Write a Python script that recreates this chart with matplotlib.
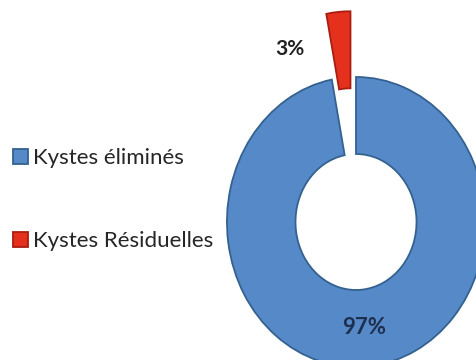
import matplotlib.pyplot as plt

# Donut: cysts eliminated vs residual
categories = ['Kystes éliminés', 'Kystes Résiduelles']
values = [97, 3]
pct_labels = ['97%', '3%']

plt.rcParams['font.family'] = ['Lato', 'DejaVu Sans']

fig = plt.figure(figsize=(4.76, 3.6), dpi=100)
ax = fig.add_axes([0, 0, 1, 1])

# x is drawn a bit narrower than y, so the ring comes out as a tall ellipse
sx = 0.89

colors = ['#5689C8', '#E4301C']
edges = ['#34618F', '#A81E10']

wedges, _ = ax.pie(values, colors=colors, center=(356 / sx, 138), radius=145,
                   startangle=90, counterclock=False, explode=[0, 66],
                   wedgeprops=dict(width=77, linewidth=1.3),
                   frame=True)
for w, ec in zip(wedges, edges):
    w.set_edgecolor(ec)

ax.set_aspect('auto')
ax.set_xlim(0, 476 / sx)
ax.set_ylim(0, 360)
ax.axis('off')

# percentage labels
ax.text(364 / sx, 32, pct_labels[0], ha='center', va='center',
        fontsize=16, fontweight='bold', color='#1F2F4F')
ax.text(290 / sx, 311, pct_labels[1], ha='center', va='center',
        fontsize=15, fontweight='bold', color='#222222')

ax.legend(wedges, categories, loc='center left', bbox_to_anchor=(0.0, 0.445),
          frameon=False, fontsize=16, handlelength=0.65, handleheight=0.65,
          handletextpad=0.25, labelspacing=2.85, borderaxespad=0.0,
          borderpad=0.6, labelcolor='#262626')

plt.savefig('out.png', dpi=100)
